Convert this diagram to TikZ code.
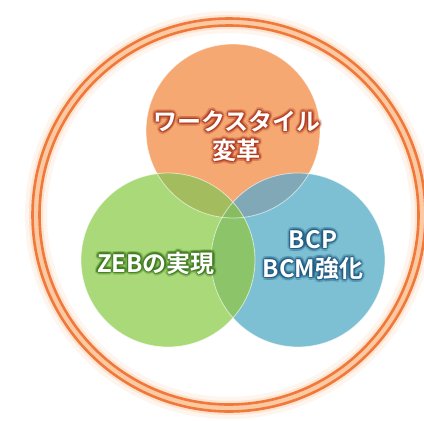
\documentclass[tikz,border=0pt]{standalone}
\usepackage{fontspec}
\setmainfont{Noto Sans CJK JP}[BoldFont={Noto Sans CJK JP Bold}]
\usetikzlibrary{calc}
\definecolor{ringor}{HTML}{F0783A}
\definecolor{ringglow}{HTML}{F9B27A}
\definecolor{corange}{HTML}{F5A872}
\definecolor{cgreen}{HTML}{A9D978}
\definecolor{cblue}{HTML}{7DC0D4}
\definecolor{ovOG}{HTML}{A3BC5E}
\definecolor{ovOB}{HTML}{80A8B6}
\definecolor{ovGB}{HTML}{8CC46A}
\definecolor{ovAll}{HTML}{88BC62}
\definecolor{shOr}{HTML}{B0381E}
\definecolor{shGr}{HTML}{3E7A1E}
\definecolor{shBl}{HTML}{1E5A82}
\tikzset{
  lbl/.style={font=\bfseries\fontsize{24}{29}\selectfont, align=center, inner sep=0pt},
  venn/.style={line width=0.8pt, draw=white, draw opacity=0.6},
}
\newcommand{\glowtext}[4]{%
  \foreach \a in {0,30,...,330}{
    \node[lbl, text=#3, text opacity=0.18] at ($(#2)+(\a:3)$) {#4};
    \node[lbl, text=#3, text opacity=0.35] at ($(#2)+(\a:1.4)$) {#4};
  }
  \node[lbl, text=white] (#1) at (#2) {#4};
}
\begin{document}
\begin{tikzpicture}[x=1pt,y=-1pt]
\useasboundingbox (0,0) rectangle (424,421);
\fill[white] (0,0) rectangle (424,421);
% outer ring
\coordinate (rc) at (229,215);
\draw[ringglow, line width=22pt, opacity=0.12] (rc) circle (193);
\draw[ringglow, line width=14pt, opacity=0.25] (rc) circle (193);
\draw[ringglow!70!white, line width=7pt] (rc) circle (193);
\draw[ringor, line width=2.6pt] (rc) circle (196.5);
\draw[ringor, line width=2.6pt] (rc) circle (189.5);
% circles
\coordinate (co) at (233,131);
\coordinate (cg) at (168,260);
\coordinate (cb) at (298,260);
\fill[corange] (co) circle (87);
\fill[cblue] (cb) circle (87);
\fill[cgreen] (cg) circle (87);
\begin{scope}
  \clip (co) circle (87);
  \fill[ovOG] (cg) circle (87);
  \fill[ovOB] (cb) circle (87);
\end{scope}
\begin{scope}
  \clip (cg) circle (87);
  \fill[ovGB] (cb) circle (87);
  \clip (co) circle (87);
  \fill[ovAll] (cb) circle (87);
\end{scope}
\draw[venn] (co) circle (87);
\draw[venn] (cb) circle (87);
\draw[venn] (cg) circle (87);
% labels
\glowtext{tws}{237,136}{shOr}{ワークスタイル\\変革}
\glowtext{tzeb}{156,263}{shGr}{ZEBの実現}
\glowtext{tbcp}{313,255}{shBl}{BCP\\BCM強化}
\end{tikzpicture}
\end{document}
